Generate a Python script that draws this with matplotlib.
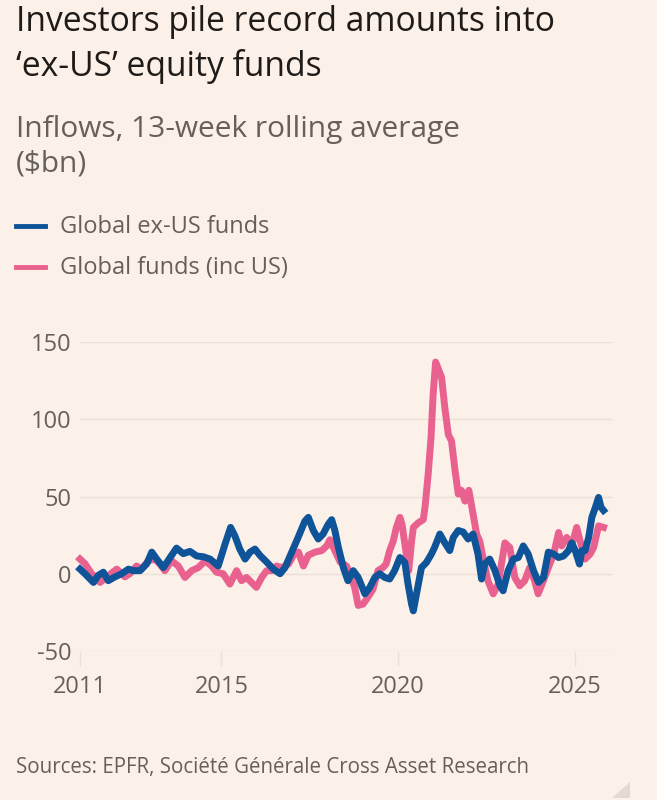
# FT-style chart: ex-US equity fund inflows
import matplotlib.pyplot as plt
from matplotlib.patches import Polygon

# Global ex-US funds, 13-week rolling average ($bn)
blue_years = [2011.0, 2011.14, 2011.38, 2011.52, 2011.66, 2011.80, 2011.99, 2012.18, 2012.37, 2012.51,
              2012.70, 2012.89, 2013.03, 2013.17, 2013.36, 2013.55, 2013.73, 2013.92, 2014.11, 2014.30,
              2014.49, 2014.68, 2014.91, 2015.10, 2015.26, 2015.38, 2015.52, 2015.67, 2015.81, 2015.95,
              2016.09, 2016.28, 2016.47, 2016.66, 2016.80, 2016.99, 2017.17, 2017.36, 2017.46, 2017.60,
              2017.74, 2017.88, 2018.02, 2018.12, 2018.21, 2018.31, 2018.45, 2018.58, 2018.73, 2018.87,
              2019.06, 2019.20, 2019.34, 2019.48, 2019.62, 2019.76, 2019.90, 2020.05, 2020.19, 2020.28,
              2020.38, 2020.43, 2020.52, 2020.66, 2020.80, 2020.94, 2021.03, 2021.18, 2021.32, 2021.46,
              2021.56, 2021.70, 2021.84, 2021.98, 2022.12, 2022.26, 2022.36, 2022.45, 2022.59, 2022.74,
              2022.88, 2022.97, 2023.11, 2023.26, 2023.40, 2023.54, 2023.68, 2023.83, 2023.97, 2024.11,
              2024.25, 2024.40, 2024.54, 2024.68, 2024.82, 2024.91, 2025.01, 2025.13, 2025.20, 2025.29,
              2025.39, 2025.48, 2025.58, 2025.67, 2025.74, 2025.81]
blue_values = [3, 0, -5.6, -1, 1, -4.5, -2, 0, 3, 2,
               2, 6.5, 14, 9.5, 4, 10.5, 16.6, 13, 14.5, 11.5,
               11, 9.5, 5, 19, 30, 24.6, 16, 9.5, 14, 16,
               11.9, 7.6, 3, 0, 4, 14, 23.5, 34, 36.5, 28,
               22.5, 25.8, 32, 35, 28, 17, 4, -4.5, 2, -2.4,
               -13, -8.8, -2.4, 0, -2.4, -3.4, 2, 10.5, 7.3, -6.7,
               -19.6, -24, -13, 4, 7.3, 12.7, 17, 25.7, 20, 15,
               23.5, 28, 27, 22.5, 25.7, 12.7, -3.4, 6.3, 9.5, 2,
               -7.8, -11, 2, 9.5, 10.5, 18, 12.7, 2, -5.6, -2.4,
               14, 12.7, 10.5, 11.5, 15, 20, 15, 6.3, 15, 15,
               23.5, 36.5, 43, 49.4, 43, 41]

# Global funds (inc US)
pink_years = [2011.0, 2011.14, 2011.33, 2011.57, 2011.76, 2012.04, 2012.27, 2012.41, 2012.60, 2012.74,
              2012.93, 2013.12, 2013.26, 2013.40, 2013.59, 2013.78, 2013.97, 2014.16, 2014.35, 2014.54,
              2014.72, 2014.86, 2015.05, 2015.24, 2015.43, 2015.57, 2015.71, 2015.85, 2015.99, 2016.14,
              2016.28, 2016.42, 2016.56, 2016.71, 2016.90, 2017.04, 2017.18, 2017.32, 2017.46, 2017.65,
              2017.84, 2017.98, 2018.07, 2018.21, 2018.36, 2018.54, 2018.63, 2018.77, 2018.87, 2019.01,
              2019.15, 2019.29, 2019.43, 2019.57, 2019.66, 2019.76, 2019.86, 2019.95, 2020.05, 2020.11,
              2020.19, 2020.30, 2020.38, 2020.43, 2020.57, 2020.71, 2020.76, 2020.85, 2020.93, 2020.99,
              2021.06, 2021.13, 2021.23, 2021.32, 2021.42, 2021.51, 2021.61, 2021.70, 2021.79, 2021.89,
              2022.00, 2022.12, 2022.22, 2022.31, 2022.40, 2022.54, 2022.69, 2022.83, 2023.02, 2023.16,
              2023.30, 2023.44, 2023.58, 2023.72, 2023.86, 2023.96, 2024.11, 2024.25, 2024.40, 2024.54,
              2024.63, 2024.77, 2024.91, 2025.05, 2025.15, 2025.29, 2025.43, 2025.53, 2025.67, 2025.81]
pink_values = [9.5, 6.5, 0, -5.6, -2, 3, -2, 0, 5, 3,
               8.4, 9.5, 6.3, 2, 8.4, 5, -2.4, 2, 4, 8.4,
               5, 1, 0, -6.7, 2, -4.5, -2.4, -5.6, -8.8, -2.4,
               2, 2, 5, 4, 6.3, 12, 14, 5, 12, 14,
               15, 18, 22, 15, 7.6, 5, 0, -8.8, -20.5, -19.6,
               -15, -10, 2, 4, 6.3, 15, 21, 30, 36.5, 32,
               19.2, 2, 21, 30, 33, 35, 43, 64.5, 88, 116,
               137, 133, 127, 107.6, 90, 86, 66.7, 51.6, 54, 47,
               54, 38.6, 25.7, 21, 10.5, -4.5, -13, -6.7, 20, 17,
               -2.4, -7.8, -4.5, 4, -4.5, -13, -4.5, 4, 12.7, 26.7,
               18, 23.5, 18, 30, 21, 9.5, 12.7, 17, 31, 30]

y_ticks = [-50, 0, 50, 100, 150]
x_ticks = [2011, 2015, 2020, 2025]

BG = '#fcf1e8'
BLUE = '#0f5499'
PINK = '#e9628f'
GRID = '#ebe1d8'
GREY = '#66605c'

plt.rcParams['font.family'] = ['Open Sans', 'DejaVu Sans']

fig = plt.figure(figsize=(6.57, 8), dpi=100, facecolor=BG)
ax = fig.add_axes([80 / 657, 1 - 651 / 800, (612 - 80) / 657, (651 - 342) / 800])
ax.set_facecolor(BG)

ax.plot(pink_years, pink_values, color=PINK, lw=5, solid_joinstyle='round', clip_on=False)
ax.plot(blue_years, blue_values, color=BLUE, lw=5, solid_joinstyle='round', clip_on=False)

ax.set_xlim(2011, 2026.05)
ax.set_ylim(-50, 150)
ax.set_yticks(y_ticks)
ax.set_yticklabels([str(v) for v in y_ticks])
ax.set_xticks(x_ticks)
ax.set_xticklabels([str(v) for v in x_ticks])
ax.grid(axis='y', color=GRID, lw=1)
ax.set_axisbelow(True)
for s in ax.spines.values():
    s.set_visible(False)
ax.tick_params(axis='y', length=0, pad=6, labelsize=17, labelcolor=GREY)
ax.tick_params(axis='x', length=11, width=1, color=GRID, pad=6, labelsize=17, labelcolor=GREY)

# titles and legend
fig.text(16 / 657, 1 - 31 / 800, 'Investors pile record amounts into', fontsize=24.2,
         color='#1e1b19', ha='left', va='baseline')
fig.text(16 / 657, 1 - 76 / 800, '‘ex-US’ equity funds', fontsize=24.2,
         color='#1e1b19', ha='left', va='baseline')
fig.text(16 / 657, 1 - 137 / 800, 'Inflows, 13-week rolling average', fontsize=21.5,
         color=GREY, ha='left', va='baseline')
fig.text(16 / 657, 1 - 172 / 800, '($bn)', fontsize=21.5, color=GREY, ha='left', va='baseline')

for ypix, col, lab in [(226, BLUE, 'Global ex-US funds'), (267, PINK, 'Global funds (inc US)')]:
    fig.add_artist(plt.Line2D([16 / 657, 45 / 657], [1 - ypix / 800] * 2, color=col, lw=3.5))
    fig.text(60 / 657, 1 - (ypix + 7) / 800, lab, fontsize=17, color=GREY, ha='left', va='baseline')

fig.text(16 / 657, 1 - 773 / 800, 'Sources: EPFR, Société Générale Cross Asset Research',
         fontsize=14.8, color=GREY, ha='left', va='baseline')

# small corner mark
fig.add_artist(Polygon([[630 / 657, 1 - 782 / 800], [630 / 657, 1 - 798 / 800], [612 / 657, 1 - 798 / 800]],
                       closed=True, transform=fig.transFigure, facecolor='#e3dbd3', edgecolor='none'))

fig.savefig('out.png', dpi=100, facecolor=BG)
